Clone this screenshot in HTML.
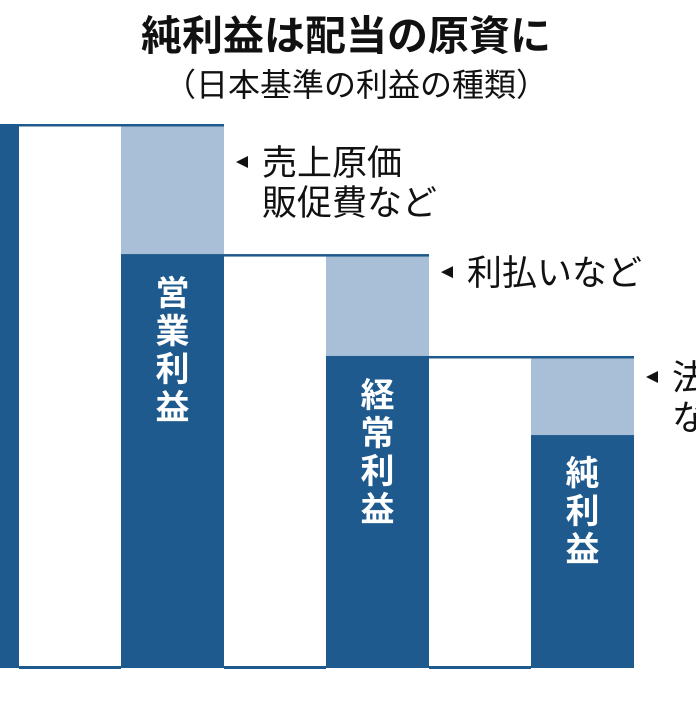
<!DOCTYPE html>
<html><head><meta charset="utf-8">
<style>
html,body{margin:0;padding:0;background:#fff;}
body{width:696px;height:696px;overflow:hidden;position:relative;font-family:"Liberation Sans","Noto Sans CJK JP",sans-serif;}
svg text{font-family:"Liberation Sans","Noto Sans CJK JP",sans-serif;}
</style></head>
<body>
<svg id="chart" width="696" height="696" viewBox="0 0 696 696" xmlns="http://www.w3.org/2000/svg">
<text x="346" y="50" text-anchor="middle" font-size="41" font-weight="bold" fill="#111">純利益は配当の原資に</text>
<text x="356" y="96" text-anchor="middle" font-size="32" fill="#111">（日本基準の利益の種類）</text>
<g id="bars"></g>
</svg>
<script>
const categories = ["売上高", "営業利益", "経常利益", "純利益"];
const values = [100, 76, 57.2, 42.8];
const deductions = ["", "売上原価\n販促費など", "利払いなど", "法人税\nなど"];

const g = document.getElementById('bars');
const NS = 'http://www.w3.org/2000/svg';
const baseY = 667, topY = 125, barW = 103, startX = -84, step = 205;
const annOffset = [0, 37, 17, 20];
const yScale = v => baseY - (baseY - topY) * v / 100;
const xScale = i => startX + i * step;
const dark = '#1f5a8e', light = '#a9bed7';

function mk(tag, attrs) { const e = document.createElementNS(NS, tag); for (const k in attrs) e.setAttribute(k, attrs[k]); g.appendChild(e); return e; }

values.forEach((v, i) => {
  const x = xScale(i);
  const yv = yScale(v);
  const bar = mk('rect', {x: x, y: yv, width: barW, height: baseY - yv + 1, fill: dark});
  
  
  if (i > 0) {
    const yp = yScale(values[i - 1]);
    const ded = mk('rect', {x: x, y: yp, width: barW, height: yv - yp, fill: light});
    
    
    const conn = mk('rect', {x: xScale(i - 1), y: yp - 1, width: x + barW - xScale(i - 1), height: 2.5, fill: dark});
    
    
    const chars = categories[i].split('');
    const cx = x + barW / 2;
    chars.forEach((c, k) => {
      const t = mk('text', {x: cx, y: yv + 50 + k * 38, 'text-anchor': 'middle', 'font-size': 34, 'font-weight': 'bold', fill: '#fff'});
      t.textContent = c;
      
      
    });
    const ax = x + barW + 12;
    const ay = yp + annOffset[i];
    const arr = mk('polygon', {points: `${ax},${ay} ${ax + 12},${ay - 6} ${ax + 12},${ay + 6}`, fill: '#111'});
    
    
    deductions[i].split('\n').forEach((line, k) => {
      const t = mk('text', {x: ax + 26, y: ay + 13 + k * 40, 'font-size': 35, fill: '#111'});
      t.textContent = line;
      
      
    });
  }
  if (i < values.length - 1) {
    const gap = mk('rect', {x: x + barW, y: baseY - 1, width: step - barW, height: 3, fill: dark});
    
    
  }
});
</script>
</body></html>
